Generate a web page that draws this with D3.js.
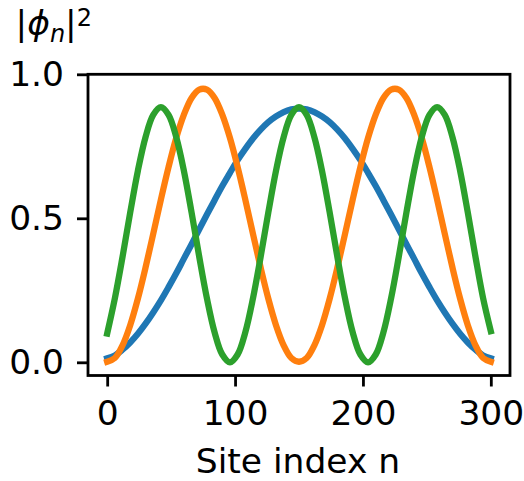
<!DOCTYPE html>
<html>
<head>
<meta charset="utf-8">
<script src="https://cdn.jsdelivr.net/npm/d3@7"></script>
<style>
  html, body { margin: 0; padding: 0; background: #fff; }
  svg { display: block; }
  text { font-family: "DejaVu Sans", sans-serif; fill: #000; }
</style>
</head>
<body>
<script>
// Site positions along the chain
const siteIndex = [0, 6, 12, 18, 24, 30, 36, 42, 48, 54, 60, 66, 72, 78, 84, 90, 96,
  102, 108, 114, 120, 126, 132, 138, 144, 150, 156, 162, 168, 174, 180, 186, 192, 198,
  204, 210, 216, 222, 228, 234, 240, 246, 252, 258, 264, 270, 276, 282, 288, 294, 300];

// |phi_n|^2 for the three states
const stateA = [0.014, 0.024, 0.044, 0.069, 0.099, 0.134, 0.173, 0.215, 0.261, 0.309,
  0.360, 0.410, 0.462, 0.513, 0.563, 0.612, 0.658, 0.702, 0.741, 0.777, 0.808, 0.834,
  0.854, 0.869, 0.878, 0.881, 0.878, 0.869, 0.854, 0.834, 0.808, 0.777, 0.741, 0.702,
  0.658, 0.612, 0.563, 0.513, 0.462, 0.410, 0.360, 0.309, 0.261, 0.215, 0.173, 0.134,
  0.099, 0.069, 0.044, 0.024, 0.014];
const stateB = [0.002, 0.015, 0.059, 0.129, 0.221, 0.329, 0.446, 0.565, 0.678, 0.779,
  0.860, 0.918, 0.947, 0.947, 0.918, 0.860, 0.779, 0.678, 0.565, 0.446, 0.329, 0.221,
  0.129, 0.059, 0.015, 0.002, 0.015, 0.059, 0.129, 0.221, 0.329, 0.446, 0.565, 0.678,
  0.779, 0.860, 0.918, 0.947, 0.947, 0.918, 0.860, 0.779, 0.678, 0.565, 0.446, 0.329,
  0.221, 0.129, 0.059, 0.015, 0.002];
const stateC = [0.100, 0.222, 0.366, 0.520, 0.665, 0.782, 0.859, 0.886, 0.859, 0.782,
  0.665, 0.520, 0.366, 0.222, 0.104, 0.027, 0.000, 0.027, 0.104, 0.222, 0.366, 0.520,
  0.665, 0.782, 0.859, 0.886, 0.859, 0.782, 0.665, 0.520, 0.366, 0.222, 0.104, 0.027,
  0.000, 0.027, 0.104, 0.222, 0.366, 0.520, 0.665, 0.782, 0.859, 0.886, 0.859, 0.782,
  0.665, 0.520, 0.366, 0.222, 0.108];

const seriesColors = ["#1f77b4", "#ff7f0e", "#2ca02c"];
const xTicks = [0, 100, 200, 300];
const yTicks = [0.0, 0.5, 1.0];
const xLabel = "Site index n";

const W = 524, H = 481;
const plot = { left: 88, right: 510, top: 74.3, bottom: 375.5 };
const fontSize = 34.5;

const svg = d3.select("body").append("svg")
  .attr("width", W).attr("height", H);

const x = d3.scaleLinear().domain([-15, 315]).range([plot.left, plot.right]);
const y = d3.scaleLinear().domain([-0.0458, 1.0]).range([plot.bottom, plot.top]);

// curves
const states = [stateA, stateB, stateC];
const line = d3.line()
  .x(d => x(d[0]))
  .y(d => y(d[1]))
  .curve(d3.curveCatmullRom.alpha(0.5));

const curves = svg.append("g");
states.forEach((vals, i) => {
  const pts = siteIndex.map((n, k) => [n, vals[k]]);
  curves.append("path")
    .datum(pts)
    .attr("d", line)
    .attr("fill", "none")
    .attr("stroke", seriesColors[i])
    .attr("stroke-width", 6.3)
    .attr("stroke-linejoin", "round")
    .attr("stroke-linecap", "square");
});

// axes frame
svg.append("rect")
  .attr("x", plot.left).attr("y", plot.top)
  .attr("width", plot.right - plot.left)
  .attr("height", plot.bottom - plot.top)
  .attr("fill", "none")
  .attr("stroke", "#000")
  .attr("stroke-width", 2.8);

// x axis
const xAxis = svg.append("g")
  .attr("transform", `translate(0,${plot.bottom})`)
  .call(d3.axisBottom(x).tickValues(xTicks).tickSize(11).tickPadding(14)
    .tickFormat(d3.format("d")));
xAxis.select(".domain").remove();
xAxis.selectAll(".tick line").attr("stroke", "#000").attr("stroke-width", 2.8);
xAxis.selectAll(".tick text")
  .attr("font-size", fontSize).attr("font-family", "DejaVu Sans")
  .attr("fill", "#000");

// y axis
const yAxis = svg.append("g")
  .attr("transform", `translate(${plot.left},0)`)
  .call(d3.axisLeft(y).tickValues(yTicks).tickSize(11).tickPadding(13)
    .tickFormat(d3.format(".1f")));
yAxis.select(".domain").remove();
yAxis.selectAll(".tick line").attr("stroke", "#000").attr("stroke-width", 2.8);
yAxis.selectAll(".tick text")
  .attr("font-size", fontSize).attr("font-family", "DejaVu Sans")
  .attr("fill", "#000");

// x label
svg.append("text")
  .attr("x", (plot.left + plot.right) / 2 - 1)
  .attr("y", 473)
  .attr("text-anchor", "middle")
  .attr("font-size", fontSize)
  .text(xLabel);

// y label |phi_n|^2 above the axis
const yl = svg.append("text")
  .attr("x", 15.5)
  .attr("y", 35)
  .attr("font-size", fontSize);
yl.append("tspan").text("|");
yl.append("tspan").attr("font-style", "italic").text("\u03D5");
yl.append("tspan").attr("font-style", "italic").attr("font-size", 24).attr("dy", 7).text("n");
yl.append("tspan").attr("dy", -7).text("|");
yl.append("tspan").attr("font-size", 24).attr("dy", -9).text("2");
</script>
</body>
</html>
